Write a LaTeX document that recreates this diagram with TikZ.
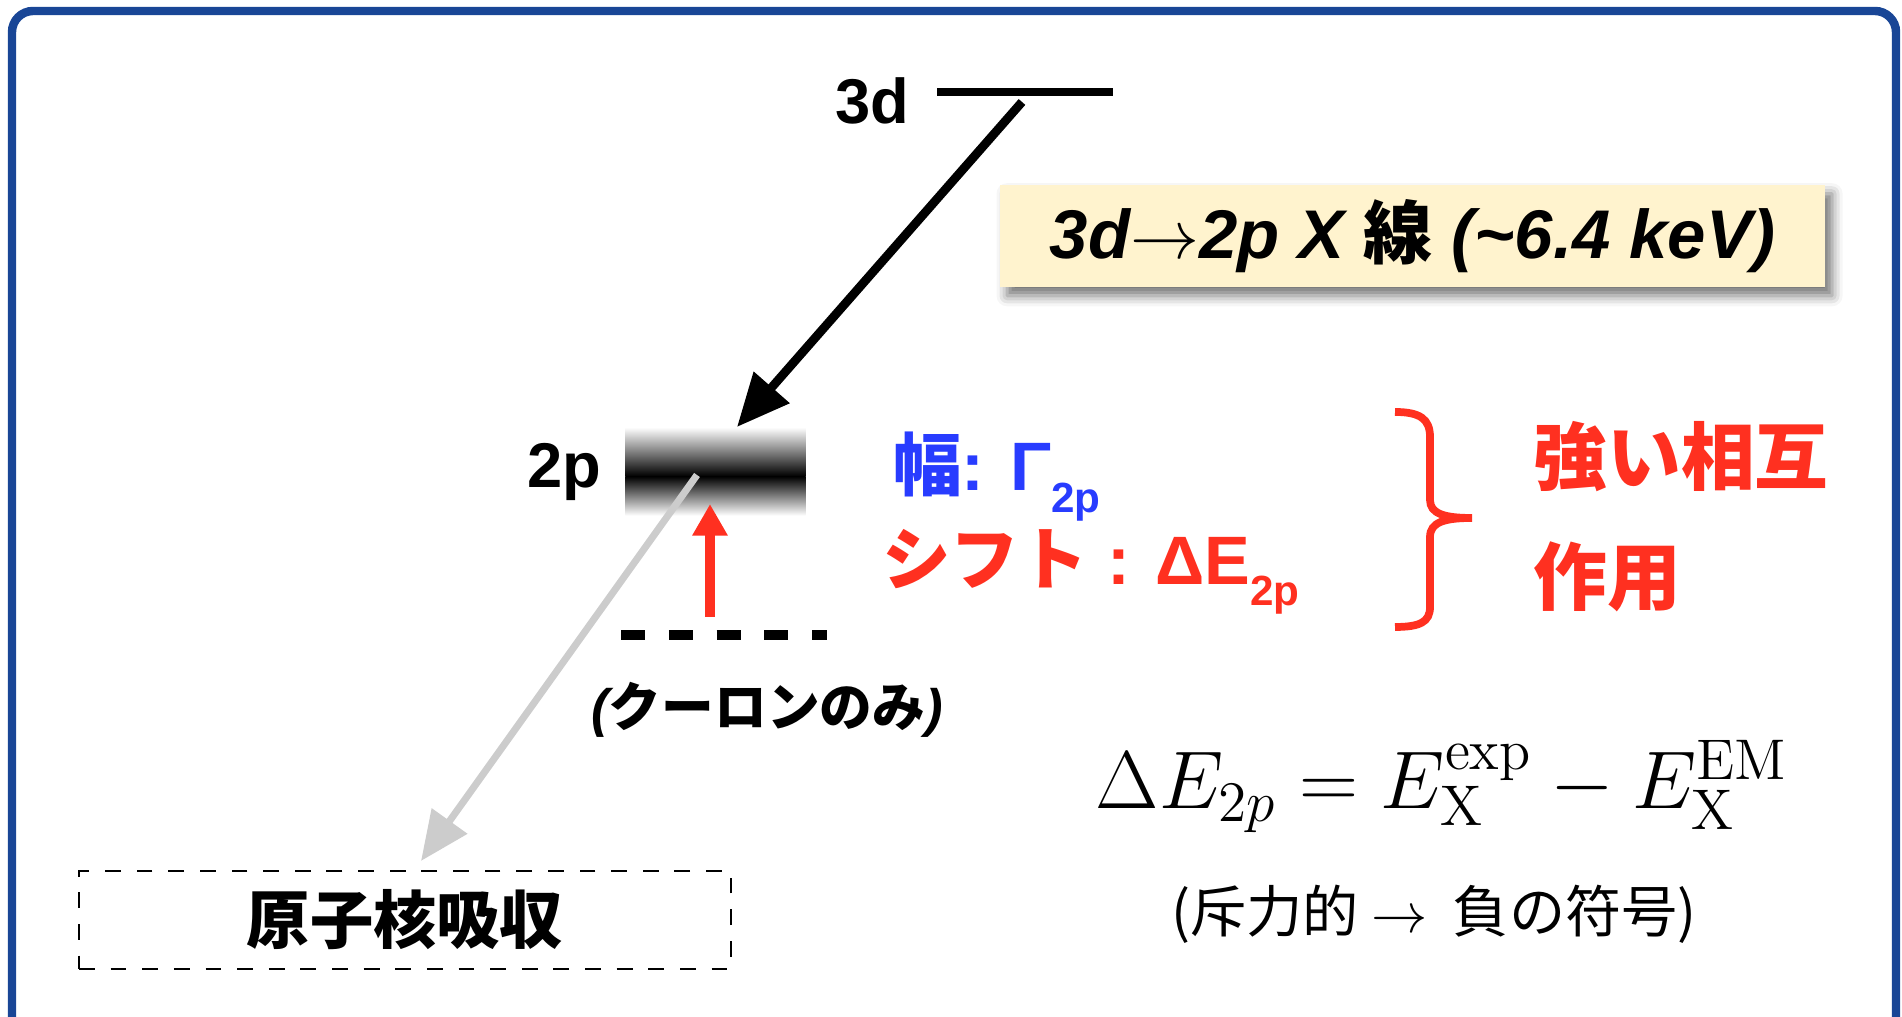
\RequirePackage{fix-cm}
\documentclass[tikz,border=0pt]{standalone}
\usepackage[no-math]{fontspec}
\setmainfont{Liberation Sans}
\newfontfamily\cjk{Noto Sans CJK JP}
\usetikzlibrary{arrows.meta,shadows.blur}
\definecolor{frameblue}{RGB}{25,70,150}
\definecolor{lvred}{RGB}{255,48,32}
\definecolor{lvblue}{RGB}{40,60,255}
\definecolor{notecream}{RGB}{255,243,206}
\definecolor{leakgray}{RGB}{204,204,204}

\begin{document}
\begin{tikzpicture}[
  lvlabel/.style={font=\fontsize{18}{18}\selectfont\bfseries},
  level/.style={line width=2.5pt},
  band/.style={minimum width=1.79cm,minimum height=0.87cm,inner sep=0pt},
  emit/.style={line width=2.5pt,-{Triangle[length=15pt,width=13pt]}},
  leak/.style={leakgray,line width=2pt,-{Triangle[length=14pt,width=12pt]}},
  shiftarrow/.style={lvred,line width=2.8pt,-{Triangle[length=9pt,width=9.5pt]}},
  bare/.style={line width=2.6pt,dash pattern=on 6.8pt off 6.8pt},
  note/.style={fill=notecream,minimum width=8.25cm,minimum height=1.02cm,inner sep=0pt,
    blur shadow={shadow xshift=2pt,shadow yshift=-2.5pt,shadow blur radius=3pt,shadow opacity=55}},
  absorbbox/.style={draw,line width=0.8pt,dash pattern=on 4.5pt off 4.5pt,
    minimum width=6.52cm,minimum height=0.98cm,inner sep=0pt},
  side/.style={anchor=base west,font=\bfseries\fontsize{19.5}{20}\selectfont},
  strong/.style={text=lvred,align=left,font=\cjk\bfseries\fontsize{21}{34}\selectfont}]

\useasboundingbox (0,0) rectangle (19.02,10.17);

% frame
\draw[frameblue,line width=2.4pt,rounded corners=6pt]
  (0.12,-0.3) -- (0.12,10.06) -- (18.96,10.06) -- (18.96,-0.3);

% ---- levels ----
\node[lvlabel,anchor=base] (lab3d) at (8.72,8.93) {3d};
\coordinate (d3w) at (9.37,9.25);
\coordinate (d3e) at (11.13,9.25);
\draw[level] (d3w) -- (d3e);

\node[lvlabel,anchor=base] (lab2p) at (5.64,5.29) {2p};
\node[band] (lev2p) at (7.155,5.455) {};
\shade[top color=white,middle color=black!30,bottom color=black]
  (lev2p.north west) rectangle ([yshift=-0.49cm]lev2p.north east);
\shade[top color=black,middle color=black!30,bottom color=white]
  ([yshift=-0.49cm]lev2p.north west) rectangle (lev2p.south east);

% coulomb only
\coordinate (cw) at (6.21,3.82);
\coordinate (ce) at (8.27,3.82);
\draw[bare] (cw) -- (ce);
\node[font=\fontsize{15}{15}\selectfont] (coul) at (7.67,3.07)
  {{\bfseries\itshape(}{\cjk\bfseries クーロンのみ}{\bfseries\itshape)}};

% ---- transitions ----
\coordinate (from3d) at (10.22,9.15);
\coordinate (hit2p) at (7.37,5.90);
\draw[emit] (from3d) -- (hit2p);

\coordinate (from2p) at (6.97,5.42);
\coordinate (hitabs) at (4.21,1.56);
\draw[leak] (from2p) -- (hitabs);

\coordinate (shiftlow) at (7.10,4.00);
\coordinate (shifttop) at (7.10,5.13);
\draw[shiftarrow] (shiftlow) -- (shifttop);

\node[absorbbox,font=\cjk\bfseries\fontsize{18}{18}\selectfont] (absorb) at (4.05,0.97) {原子核吸収};

% ---- x-ray note ----
\node[note,font=\bfseries\itshape\fontsize{19.6}{20}\selectfont] (xray) at (14.125,7.81)
  {3d$\rightarrow$2p X {\cjk\upshape 線} (\textasciitilde 6.4 keV)};

% ---- width and shift ----
\node[side,text=lvblue] (width2p) at (8.81,5.26)
  {{\cjk 幅}: Γ\raisebox{-6.2pt}{\fontsize{12}{13}\selectfont 2p}};
\node[side,text=lvred] (shift2p) at (8.70,4.32)
  {{\cjk シフト} : ΔE\raisebox{-5.8pt}{\fontsize{12}{13}\selectfont 2p}};

\draw[lvred,line width=2.2pt]
  (13.95,6.05) .. controls (14.20,6.05) and (14.30,5.98) .. (14.30,5.80) -- (14.30,5.17)
  .. controls (14.30,5.03) and (14.45,4.99) .. (14.72,4.99)
  .. controls (14.45,4.99) and (14.30,4.95) .. (14.30,4.80) -- (14.30,4.10)
  .. controls (14.30,3.95) and (14.20,3.90) .. (13.95,3.90);
\node[strong] (strongint) at (16.81,5.005) {強い相互\\作用};

% ---- formula ----
\node[font=\fontsize{23.3}{24}\selectfont,anchor=base] (eqshift) at (14.42,2.08)
  {$\Delta E_{2p} = E_{\mathrm{X}}^{\mathrm{exp}} - E_{\mathrm{X}}^{\mathrm{EM}}$};
\node[font=\cjk\fontsize{16}{16}\selectfont] (signnote) at (14.34,1.03)
  {(斥力的 $\rightarrow$ \ 負の符号)};
\end{tikzpicture}
\end{document}
